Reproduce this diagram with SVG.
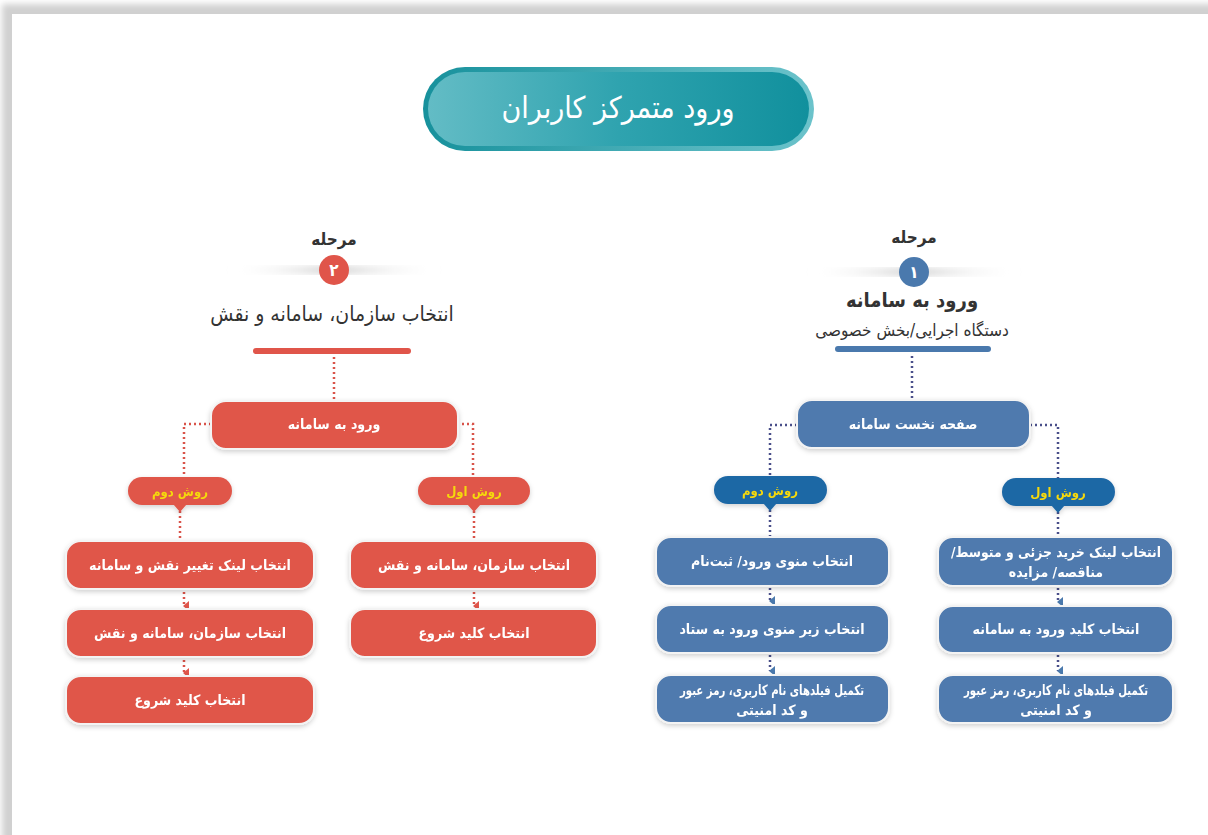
<svg xmlns="http://www.w3.org/2000/svg" width="1208" height="835" viewBox="0 0 1208 835">
<defs>
<linearGradient id="tg" x1="0" y1="0" x2="1" y2="0">
<stop offset="0" stop-color="#63bcc5"/>
<stop offset="0.5" stop-color="#2fa3af"/>
<stop offset="1" stop-color="#11909d"/>
</linearGradient>
<linearGradient id="tgb" x1="0" y1="0" x2="1" y2="0">
<stop offset="0" stop-color="#17919c"/>
<stop offset="1" stop-color="#6cc3cb"/>
</linearGradient>
<linearGradient id="sh" x1="0" y1="0" x2="1" y2="0">
<stop offset="0" stop-color="#ffffff" stop-opacity="0"/>
<stop offset="0.5" stop-color="#cfcfcf" stop-opacity="1"/>
<stop offset="1" stop-color="#ffffff" stop-opacity="0"/>
</linearGradient>
<filter id="ds" x="-10%" y="-20%" width="120%" height="150%">
<feDropShadow dx="0" dy="2" stdDeviation="2.5" flood-color="#000" flood-opacity="0.18"/>
</filter>
<filter id="blur"><feGaussianBlur stdDeviation="3"/></filter>
<marker id="ab" markerWidth="10" markerHeight="8" refX="5" refY="7" orient="auto" markerUnits="userSpaceOnUse" viewBox="0 0 10 8"><path d="M0,2 L10,2 L5,8 Z" fill="#4a79ad"/></marker>
<marker id="ar" markerWidth="10" markerHeight="8" refX="5" refY="7" orient="auto" markerUnits="userSpaceOnUse" viewBox="0 0 10 8"><path d="M0,2 L10,2 L5,8 Z" fill="#e0554a"/></marker>
</defs>
<style>
text{font-family:"DejaVu Sans Condensed","DejaVu Sans",sans-serif;text-anchor:middle;direction:rtl}
.nt{fill:#fff;font-size:14px;font-weight:bold}
.pt{fill:#f5d90a;font-size:13px;font-weight:bold}
.hd{fill:#333;font-size:17px;font-weight:bold}
.sub{fill:#333;font-size:17px}
.blue{fill:#4f7aae}
.red{fill:#e0564a}
.bp{fill:#1f67a5}
.dotb{stroke:#4a4f8a;stroke-width:2.5;stroke-dasharray:2 3;fill:none}
.dotr{stroke:#d9534a;stroke-width:2.5;stroke-dasharray:2 3;fill:none}
.wb{stroke:#f3f3f3;stroke-width:2}
</style>
<rect width="1208" height="835" fill="#ffffff"/>
<!-- card -->
<rect x="2" y="4" width="1230" height="860" fill="#000" opacity="0.18" filter="url(#blur)"/>
<rect x="12" y="14" width="1210" height="850" fill="#ffffff"/>

<!-- title -->
<g id="title">
<rect x="423" y="67" width="391" height="84" rx="42" fill="url(#tgb)"/>
<rect x="428" y="72" width="381" height="74" rx="37" fill="url(#tg)"/>
<text x="618" y="118" style="fill:#fff;font-size:30px">ورود متمرکز کاربران</text>
</g>

<!-- stage 1 header -->
<g id="stage1">
<text x="914" y="243" class="hd" style="font-size:17px">مرحله</text>
<rect x="808" y="268" width="212" height="8" fill="url(#sh)" filter="url(#blur)"/>
<circle cx="914" cy="272" r="15" fill="#4a79ad"/>
<text x="914" y="278" style="fill:#fff;font-size:17px;font-weight:bold">۱</text>
<text x="912" y="307" class="hd" style="font-size:20px">ورود به سامانه</text>
<text x="912" y="336" class="sub">دستگاه اجرایی/بخش خصوصی</text>
<rect x="835" y="346" width="156" height="6" rx="3" fill="#4a79ad"/>
</g>

<!-- stage 2 header -->
<g id="stage2">
<text x="334" y="245" class="hd" style="font-size:17px">مرحله</text>
<rect x="228" y="266" width="212" height="8" fill="url(#sh)" filter="url(#blur)"/>
<circle cx="334" cy="270" r="15" fill="#e0554a"/>
<text x="334" y="276" style="fill:#fff;font-size:17px;font-weight:bold">۲</text>
<text x="332" y="321" class="hd" style="font-weight:normal;font-size:21px">انتخاب سازمان، سامانه و نقش</text>
<rect x="253" y="348" width="158" height="6" rx="3" fill="#e0554a"/>
</g>

<!-- connectors -->
<g id="connectors">
<path class="dotb" d="M912,356 V399"/>
<path class="dotb" d="M797,425 H770 V476"/>
<path class="dotb" d="M1030,425 H1058 V478"/>
<path class="dotb" d="M770,510 V537"/>
<path class="dotb" d="M1058,512 V537"/>
<path class="dotb" d="M770,588 V601" marker-end="url(#ab)"/>
<path class="dotb" d="M770,655 V671" marker-end="url(#ab)"/>
<path class="dotb" d="M1058,588 V602" marker-end="url(#ab)"/>
<path class="dotb" d="M1058,655 V671" marker-end="url(#ab)"/>

<path class="dotr" d="M334,357 V400"/>
<path class="dotr" d="M211,424 H184 V477"/>
<path class="dotr" d="M457,424 H473 V477"/>
<path class="dotr" d="M180,511 V540"/>
<path class="dotr" d="M474,511 V540"/>
<path class="dotr" d="M474,592 V606" marker-end="url(#ar)"/>
<path class="dotr" d="M184,592 V606" marker-end="url(#ar)"/>
<path class="dotr" d="M184,660 V673" marker-end="url(#ar)"/>
</g>

<!-- blue side -->
<g id="b-home" filter="url(#ds)">
<rect x="797" y="400" width="233" height="48" rx="15" class="blue wb"/>
<text x="913" y="429" class="nt">صفحه نخست سامانه</text>
</g>
<g id="b-m2" filter="url(#ds)">
<rect x="714" y="476" width="113" height="28" rx="14" class="bp"/>
<path d="M763,503 L777,503 L770,511 Z" class="bp"/>
<text x="770" y="495" class="pt">روش دوم</text>
</g>
<g id="b-m1" filter="url(#ds)">
<rect x="1002" y="478" width="113" height="28" rx="14" class="bp"/>
<path d="M1051,505 L1065,505 L1058,513 Z" class="bp"/>
<text x="1058" y="497" class="pt">روش اول</text>
</g>
<g id="b-l1" filter="url(#ds)">
<rect x="656" y="537" width="233" height="49" rx="15" class="blue wb"/>
<text x="772" y="566" class="nt">انتخاب منوی ورود/ ثبت‌نام</text>
</g>
<g id="b-l2" filter="url(#ds)">
<rect x="656" y="605" width="233" height="48" rx="15" class="blue wb"/>
<text x="772" y="634" class="nt">انتخاب زیر منوی ورود به ستاد</text>
</g>
<g id="b-l3" filter="url(#ds)">
<rect x="656" y="675" width="233" height="48" rx="15" class="blue wb"/>
<text x="772" y="695" class="nt" textLength="184" lengthAdjust="spacingAndGlyphs">تکمیل فیلدهای نام کاربری، رمز عبور</text>
<text x="772" y="715" class="nt">و کد امنیتی</text>
</g>
<g id="b-r1" filter="url(#ds)">
<rect x="938" y="537" width="235" height="49" rx="15" class="blue wb"/>
<text x="1056" y="557" class="nt" textLength="210" lengthAdjust="spacingAndGlyphs">انتخاب لینک خرید جزئی و متوسط/</text>
<text x="1056" y="577" class="nt">مناقصه/ مزایده</text>
</g>
<g id="b-r2" filter="url(#ds)">
<rect x="938" y="606" width="235" height="47" rx="15" class="blue wb"/>
<text x="1056" y="634" class="nt">انتخاب کلید ورود به سامانه</text>
</g>
<g id="b-r3" filter="url(#ds)">
<rect x="938" y="675" width="235" height="48" rx="15" class="blue wb"/>
<text x="1056" y="695" class="nt" textLength="184" lengthAdjust="spacingAndGlyphs">تکمیل فیلدهای نام کاربری، رمز عبور</text>
<text x="1056" y="715" class="nt">و کد امنیتی</text>
</g>

<!-- red side -->
<g id="r-login" filter="url(#ds)">
<rect x="211" y="401" width="247" height="48" rx="15" class="red wb"/>
<text x="334" y="429" class="nt">ورود به سامانه</text>
</g>
<g id="r-m2" filter="url(#ds)">
<rect x="128" y="477" width="104" height="28" rx="14" class="red"/>
<path d="M173,504 L187,504 L180,512 Z" class="red"/>
<text x="180" y="496" class="pt">روش دوم</text>
</g>
<g id="r-m1" filter="url(#ds)">
<rect x="418" y="477" width="112" height="28" rx="14" class="red"/>
<path d="M467,504 L481,504 L474,512 Z" class="red"/>
<text x="474" y="496" class="pt">روش اول</text>
</g>
<g id="r-l1" filter="url(#ds)">
<rect x="66" y="541" width="248" height="48" rx="15" class="red wb"/>
<text x="190" y="570" class="nt">انتخاب لینک تغییر نقش و سامانه</text>
</g>
<g id="r-l2" filter="url(#ds)">
<rect x="66" y="609" width="248" height="48" rx="15" class="red wb"/>
<text x="190" y="638" class="nt">انتخاب سازمان، سامانه و نقش</text>
</g>
<g id="r-l3" filter="url(#ds)">
<rect x="66" y="676" width="248" height="48" rx="15" class="red wb"/>
<text x="190" y="705" class="nt">انتخاب کلید شروع</text>
</g>
<g id="r-r1" filter="url(#ds)">
<rect x="350" y="541" width="247" height="48" rx="15" class="red wb"/>
<text x="474" y="570" class="nt">انتخاب سازمان، سامانه و نقش</text>
</g>
<g id="r-r2" filter="url(#ds)">
<rect x="350" y="609" width="247" height="48" rx="15" class="red wb"/>
<text x="474" y="638" class="nt">انتخاب کلید شروع</text>
</g>
</svg>
